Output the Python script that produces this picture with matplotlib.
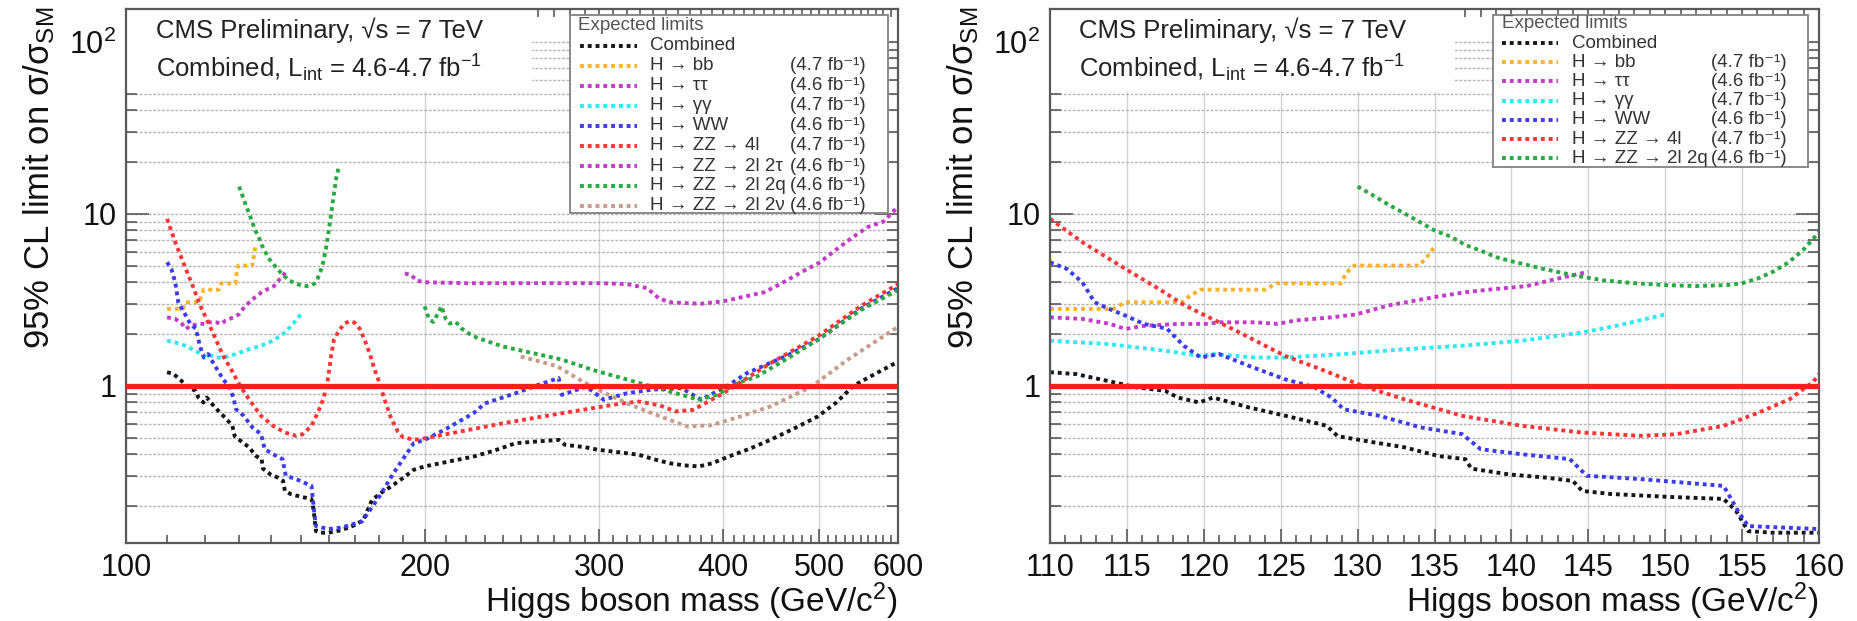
import matplotlib
matplotlib.use("Agg")
import matplotlib.pyplot as plt
from matplotlib.patches import Rectangle
from matplotlib.lines import Line2D
from matplotlib.ticker import FixedLocator, FixedFormatter, NullFormatter

plt.rcParams['font.family'] = ['Liberation Sans', 'DejaVu Sans']
plt.rcParams['mathtext.fontset'] = 'custom'
plt.rcParams['mathtext.rm'] = 'Liberation Sans'
plt.rcParams['mathtext.it'] = 'Liberation Sans:italic'
plt.rcParams['mathtext.bf'] = 'Liberation Sans:bold'

# ---- expected 95% CL limits on sigma/sigma_SM vs Higgs mass (GeV) ----
comb_mass = [110, 111.7, 113.7, 115.6, 117.5, 118.3, 119.7, 120.6, 122.9, 125.3,
             127.2, 128, 128.7, 131, 133, 135.3, 137, 137.4, 139.9, 142.2,
             144, 144.6, 146.5, 150.3, 153.8, 154.6, 155.4, 157, 160, 165,
             170, 173.5, 177, 181, 185, 190, 195, 200, 210, 224,
             235, 247, 260, 273, 277, 290, 299, 315, 329, 340,
             353, 365, 378, 390, 405, 425, 446, 470, 498, 520,
             541, 570, 600]
comb_limit = [1.20, 1.17, 1.07, 0.98, 0.935, 0.855, 0.80, 0.855, 0.75, 0.67,
              0.61, 0.585, 0.51, 0.47, 0.44, 0.39, 0.375, 0.33, 0.305, 0.293,
              0.28, 0.245, 0.235, 0.226, 0.22, 0.188, 0.143, 0.14, 0.14, 0.145,
              0.155, 0.166, 0.217, 0.24, 0.26, 0.29, 0.325, 0.34, 0.36, 0.388,
              0.42, 0.464, 0.475, 0.485, 0.454, 0.44, 0.425, 0.41, 0.397, 0.375,
              0.355, 0.345, 0.34, 0.355, 0.388, 0.43, 0.485, 0.56, 0.663, 0.80,
              1.0, 1.18, 1.38]

bb_mass = [110, 114.1, 114.9, 118.6, 119.1, 119.8, 124, 124.7, 128.9, 129.3,
           129.8, 134, 134.5, 135]
bb_limit = [2.8, 2.8, 3.06, 3.06, 3.34, 3.62, 3.62, 3.94, 3.94, 4.58,
            5.0, 5.0, 5.6, 6.4]

tautau_mass = [110, 112.1, 113.9, 114.9, 116.1, 118.3, 120.1, 121.1, 123.3, 124.8,
               126, 128.3, 129.9, 132, 133.5, 135, 137, 138.5, 141, 143, 145]
tautau_limit = [2.5, 2.45, 2.29, 2.14, 2.23, 2.29, 2.29, 2.34, 2.34, 2.29,
                2.4, 2.5, 2.6, 2.93, 3.1, 3.28, 3.5, 3.62, 3.8, 4.2, 4.6]

gg_mass = [110, 113.7, 117.5, 119.8, 120.6, 123.3, 125.3, 129.1, 133, 136.8,
           140.7, 144.6, 147, 150]
gg_limit = [1.83, 1.75, 1.60, 1.49, 1.53, 1.46, 1.46, 1.53, 1.63, 1.71,
            1.83, 2.04, 2.25, 2.6]

ww_mass = [110, 111.1, 112.1, 112.9, 113.6, 114.9, 116.1, 117.6, 118.7, 119.8,
           121, 122.9, 125.3, 127.2, 128.3, 129.1, 131.4, 134.1, 136.8, 138,
           140.7, 143.8, 144.9, 148.4, 153.8, 154.8, 155.4, 160, 165, 173,
           180, 186, 195, 200, 210, 224, 230, 247, 260, 273,
           275, 291, 303, 320, 339, 363, 380, 405, 422, 465,
           498, 550, 600]
ww_limit = [5.23, 4.78, 4.0, 3.06, 2.86, 2.56, 2.29, 2.15, 1.71, 1.46,
            1.53, 1.31, 1.09, 0.98, 0.855, 0.73, 0.67, 0.573, 0.524, 0.428,
            0.40, 0.375, 0.30, 0.287, 0.262, 0.183, 0.153, 0.147, 0.15, 0.163,
            0.227, 0.31, 0.464, 0.485, 0.56, 0.693, 0.79, 0.906, 1.01, 1.11,
            0.886, 0.99, 0.83, 0.906, 0.95, 0.97, 0.83, 1.01, 1.18, 1.51,
            1.85, 2.8, 3.7]

zz4l_mass = [110, 112.1, 114.9, 117.1, 118.6, 120.1, 122.1, 125.3, 127.6, 130.3,
             133, 136.8, 140.7, 144.6, 148.4, 150.7, 153.8, 156.1, 158.1, 159.6,
             161, 162, 164, 166, 168, 170, 172, 174, 176, 178,
             180, 182, 185, 188, 190, 195, 200, 240, 275, 316,
             329, 345, 358, 373, 400, 446, 498, 550, 600]
zz4l_limit = [9.35, 6.84, 4.78, 3.65, 2.99, 2.56, 2.09, 1.49, 1.25, 1.0,
              0.837, 0.669, 0.585, 0.535, 0.512, 0.523, 0.585, 0.70, 0.837, 1.05,
              1.5, 1.85, 2.1, 2.3, 2.37, 2.33, 2.15, 1.85, 1.55, 1.25,
              1.05, 0.85, 0.65, 0.54, 0.505, 0.485, 0.495, 0.606, 0.693, 0.79,
              0.81, 0.77, 0.71, 0.725, 0.906, 1.35, 1.94, 2.9, 3.9]

zz2l2tau_mass = [191, 194, 196, 200, 220, 250, 280, 300, 320, 335,
                 345, 355, 380, 400, 420, 440, 460, 480, 500, 520,
                 540, 560, 580, 600]
zz2l2tau_limit = [4.5, 4.4, 4.1, 4.0, 3.95, 3.95, 3.95, 3.95, 3.9, 3.7,
                  3.2, 3.05, 3.0, 3.1, 3.3, 3.5, 4.0, 4.6, 5.2, 6.2,
                  7.3, 8.4, 9.0, 11.0]

zz2l2q_low_mass = [130, 131, 132, 133, 134, 135, 136, 137, 138, 139,
                   140, 142, 144, 146, 148, 150, 152, 154, 155, 156,
                   157, 158, 159, 160, 161, 162, 163, 164]
zz2l2q_low_limit = [14.4, 12.8, 11.3, 10.1, 9.0, 8.0, 7.4, 6.6, 6.1, 5.6,
                    5.3, 4.8, 4.4, 4.1, 3.95, 3.85, 3.8, 3.85, 3.95, 4.2,
                    4.6, 5.2, 6.2, 7.8, 10.0, 13.0, 16.5, 19.0]
zz2l2q_high_mass = [200, 202, 204, 206, 208, 210, 212, 215, 218, 222,
                    226, 240, 257, 275, 295, 316, 339, 363, 378, 394,
                    414, 432, 465, 498, 550, 600]
zz2l2q_high_limit = [2.9, 2.45, 2.35, 2.6, 2.9, 2.45, 2.3, 2.35, 2.15, 2.0,
                     1.9, 1.69, 1.55, 1.42, 1.24, 1.11, 0.99, 0.886, 0.83, 0.886,
                     1.04, 1.13, 1.45, 1.85, 2.75, 3.6]

zz2l2nu_mass = [250, 272, 287, 299, 320, 339, 368, 389, 416, 446,
                491, 534, 580, 600]
zz2l2nu_limit = [1.48, 1.3, 1.08, 0.95, 0.79, 0.693, 0.58, 0.59, 0.663, 0.758,
                 0.99, 1.42, 1.94, 2.2]

channel_labels = ["Combined", "H → bb", "H → ττ", "H → γγ", "H → WW",
                  "H → ZZ → 4l", "H → ZZ → 2l 2τ", "H → ZZ → 2l 2q", "H → ZZ → 2l 2ν"]
channel_lumi = [None, "4.7", "4.6", "4.7", "4.6", "4.7", "4.6", "4.6", "4.6"]
channel_colors = ["#161616", "#f7b32b", "#c23cc8", "#2ee8f2", "#3b3bf2",
                  "#ff3434", "#c23cc8", "#2aa844", "#c89c8c"]

left_xticks = [100, 200, 300, 400, 500, 600]
right_xticks = [110, 115, 120, 125, 130, 135, 140, 145, 150, 155, 160]
y_major = [1, 10, 100]
y_major_labels = ["1", "10", r"$\mathregular{10^{2}}$"]

channels = [
    [(comb_mass, comb_limit)],
    [(bb_mass, bb_limit)],
    [(tautau_mass, tautau_limit)],
    [(gg_mass, gg_limit)],
    [(ww_mass, ww_limit)],
    [(zz4l_mass, zz4l_limit)],
    [(zz2l2tau_mass, zz2l2tau_limit)],
    [(zz2l2q_low_mass, zz2l2q_low_limit), (zz2l2q_high_mass, zz2l2q_high_limit)],
    [(zz2l2nu_mass, zz2l2nu_limit)],
]

W, H = 1857, 621
fig = plt.figure(figsize=(W / 100, H / 100), dpi=100)


def fx(x):
    return x / W


def fy(y):
    return 1 - y / H


DOT = dict(linestyle=(0, (1, 1.0)), linewidth=2.8, dash_capstyle='butt')
FRAME = '#5a5a5a'
LEG_FS = 13.5
AX_BOTTOM, AX_TOP = 543, 9


def style_axes(ax, x_header_end, x_text):
    for s in ax.spines.values():
        s.set_color(FRAME)
        s.set_linewidth(1.6)
    ax.set_yscale('log')
    ax.set_ylim(0.122, 155)
    ax.yaxis.set_major_locator(FixedLocator(y_major))
    ax.yaxis.set_major_formatter(FixedFormatter(y_major_labels))
    ymin = [m * d for d in (0.1, 1, 10) for m in range(2, 10)]
    ax.yaxis.set_minor_locator(FixedLocator(ymin))
    ax.yaxis.set_minor_formatter(NullFormatter())
    ax.tick_params(axis='both', which='both', direction='in', top=True, right=True,
                   color=FRAME, width=1.2, labelsize=22, labelcolor='#111111')
    ax.tick_params(axis='y', which='major', length=16.5, pad=7)
    ax.tick_params(axis='y', which='minor', length=8)
    ax.tick_params(axis='x', which='major', length=10, pad=7)
    ax.tick_params(axis='x', which='minor', length=6)
    ax.set_axisbelow(True)
    ax.yaxis.grid(True, which='both', color='#b4b4b4', linewidth=1.0,
                  linestyle=(0, (2.0, 1.2)))
    ax.xaxis.grid(True, which='major', color='#d2d2d2', linewidth=1.0, linestyle='-')

    ax.set_xlabel(r"Higgs boson mass (GeV/c$^{\mathregular{2}}$)", fontsize=24,
                  loc='right', color='#111111')
    ax.xaxis.label.set_va('baseline')
    ax.xaxis.set_label_coords(1.0, -(612 - AX_BOTTOM) / (AX_BOTTOM - AX_TOP))
    ax.set_ylabel(r"95% CL limit on σ/σ$_{\mathregular{SM}}$", fontsize=25,
                  loc='top', color='#111111')
    ax.yaxis.set_label_coords(-0.090, 1.004)

    # white header area behind the CMS caption
    bl = ax.transAxes.inverted().transform(
        fig.transFigure.transform((fx(x_header_end), fy(92))))
    ax.add_patch(Rectangle((0, bl[1]), bl[0], 1 - bl[1], transform=ax.transAxes,
                           facecolor='white', edgecolor='none', zorder=1))
    fig.text(fx(x_text), fy(38), r"CMS Preliminary, √s = 7 TeV", fontsize=18.5,
             color='#222222', ha='left', va='baseline')
    fig.text(fx(x_text), fy(77),
             r"Combined, L$_{\mathregular{int}}$ = 4.6-4.7 fb$^{\mathregular{-1}}$",
             fontsize=18.5, color='#222222', ha='left', va='baseline')

    ax.axhline(1.0, color='#ff1e1e', linewidth=3.8, zorder=3)


def draw_channels(ax, shown):
    for i in shown:
        for mass, lim in channels[i]:
            ax.plot(mass, lim, color=channel_colors[i], zorder=2, **DOT)


def draw_legend(box, title_xy, rows_y, sample_x, label_x, lumi_right, shown):
    (bx0, by0, bx1, by1) = box
    fig.add_artist(Rectangle((fx(bx0), fy(by1)), fx(bx1) - fx(bx0), fy(by0) - fy(by1),
                             transform=fig.transFigure, facecolor='white',
                             edgecolor='#8a8a8a', linewidth=1.4, zorder=6))
    fig.text(fx(title_xy[0]), fy(title_xy[1]), "Expected limits", fontsize=LEG_FS,
             color='#555555', ha='left', va='center', zorder=7)
    for y, i in zip(rows_y, shown):
        fig.add_artist(Line2D([fx(sample_x[0]), fx(sample_x[1])], [fy(y), fy(y)],
                              transform=fig.transFigure, color=channel_colors[i],
                              zorder=7, **DOT))
        fig.text(fx(label_x), fy(y), channel_labels[i], fontsize=LEG_FS,
                 color='#333333', ha='left', va='center', zorder=7)
        if channel_lumi[i]:
            fig.text(fx(lumi_right), fy(y), "(" + channel_lumi[i] + " fb⁻¹)",
                     fontsize=LEG_FS, color='#333333', ha='right', va='center',
                     zorder=7)


# ---------------- left panel: full mass range (log x) ----------------
axL = fig.add_axes([fx(126), fy(AX_BOTTOM), fx(898) - fx(126), fy(AX_TOP) - fy(AX_BOTTOM)])
axL.set_xscale('log')
axL.set_xlim(100, 600)
axL.xaxis.set_major_locator(FixedLocator(left_xticks))
axL.xaxis.set_major_formatter(FixedFormatter([str(t) for t in left_xticks]))
axL.xaxis.set_minor_locator(FixedLocator([m for m in range(110, 600, 10)
                                          if m not in left_xticks]))
axL.xaxis.set_minor_formatter(NullFormatter())
style_axes(axL, 532, 156)
left_shown = list(range(9))
draw_channels(axL, left_shown)
draw_legend((570, 15, 888, 213), (578, 25), [46 + 20 * k for k in range(9)],
            (580, 637), 650, 866, left_shown)

# ---------------- right panel: low-mass zoom (linear x) ----------------
axR = fig.add_axes([fx(1050), fy(AX_BOTTOM), fx(1819) - fx(1050), fy(AX_TOP) - fy(AX_BOTTOM)])
axR.set_xlim(110, 160)
axR.xaxis.set_major_locator(FixedLocator(right_xticks))
axR.xaxis.set_major_formatter(FixedFormatter([str(t) for t in right_xticks]))
axR.xaxis.set_minor_locator(FixedLocator(list(range(110, 161))))
axR.xaxis.set_minor_formatter(NullFormatter())
style_axes(axR, 1455, 1079)
right_shown = [0, 1, 2, 3, 4, 5, 7]
draw_channels(axR, right_shown)
draw_legend((1493, 15, 1808, 167), (1502, 23), [43 + 19.2 * k for k in range(7)],
            (1502, 1558), 1572, 1787, right_shown)

fig.savefig("out.png", dpi=100)
